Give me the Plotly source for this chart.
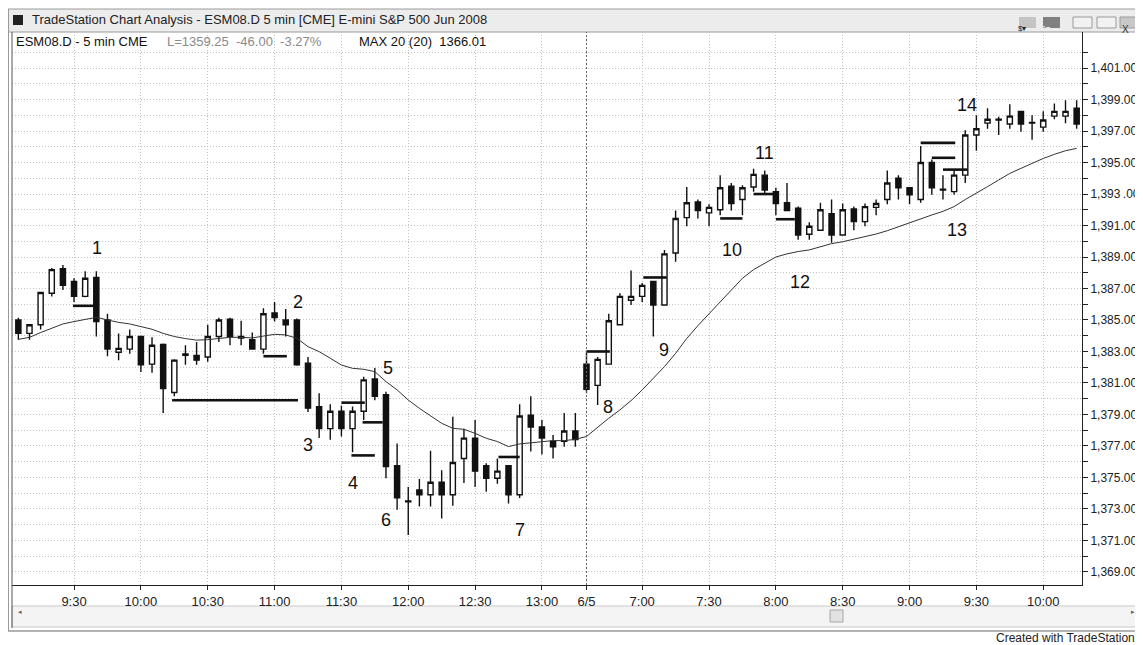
import plotly.graph_objects as go

FONT = "Liberation Sans, Arial, sans-serif"

# ---------------- data ----------------
OPEN = [1385.0, 1384.15, 1384.7, 1386.7, 1388.25, 1387.45, 1386.5, 1387.7, 1385.0, 1382.95,
        1383.15, 1383.95, 1382.2, 1383.45, 1380.4, 1382.75, 1382.75, 1382.65, 1383.95, 1385.05,
        1383.95, 1383.75, 1383.15, 1385.45, 1385.0, 1385.0, 1382.25, 1379.5, 1378.1, 1379.2,
        1378.1, 1379.2, 1381.25, 1380.25, 1375.75, 1373.5, 1374.2, 1373.9, 1374.7, 1373.9,
        1376.2, 1377.5, 1375.75, 1374.95, 1375.75, 1373.9, 1378.95, 1378.2, 1377.3, 1377.3,
        1377.95,
        1382.2, 1380.85, 1382.2, 1384.7, 1386.25, 1386.5, 1387.45, 1385.95, 1389.25, 1391.5,
        1392.5, 1391.8, 1392.0, 1393.5, 1392.65, 1393.45, 1394.2, 1393.15, 1392.45, 1392.1,
        1390.45, 1390.7, 1391.75, 1390.4, 1392.05, 1391.25, 1392.15, 1392.65, 1394.0, 1393.4,
        1392.65, 1395.0, 1393.3, 1393.15, 1394.2, 1396.75, 1397.5, 1397.7, 1397.45, 1398.25,
        1397.55, 1397.25, 1397.95, 1397.95, 1398.45]
HIGH = [1385.15, 1384.7, 1386.75, 1388.3, 1388.5, 1387.65, 1388.1, 1388.1, 1385.4, 1384.15,
        1384.4, 1383.95, 1383.9, 1383.5, 1382.5, 1383.4, 1383.6, 1384.7, 1385.15, 1385.15,
        1384.95, 1384.2, 1385.75, 1386.15, 1385.7, 1385.1, 1382.65, 1380.35, 1379.65, 1379.55,
        1379.5, 1381.4, 1381.95, 1380.45, 1377.15, 1374.4, 1374.9, 1376.7, 1375.45, 1378.85,
        1378.1, 1378.65, 1375.9, 1376.2, 1375.75, 1379.65, 1380.15, 1378.65, 1377.7, 1379.1,
        1379.1,
        1382.95, 1382.65, 1385.4, 1386.7, 1388.15, 1387.35, 1387.45, 1389.45, 1391.95, 1393.45,
        1392.65, 1392.35, 1394.2, 1393.7, 1393.55, 1394.6, 1394.5, 1393.4, 1393.7, 1392.2,
        1391.2, 1392.45, 1392.65, 1392.4, 1392.2, 1392.4, 1392.65, 1394.5, 1394.2, 1393.4,
        1396.05, 1395.2, 1394.2, 1394.5, 1397.05, 1398.0, 1398.45, 1397.9, 1398.7, 1398.25,
        1398.0, 1398.25, 1398.75, 1398.95, 1398.95]
LOW = [1383.75, 1383.75, 1384.4, 1386.5, 1386.9, 1386.15, 1386.45, 1383.95, 1382.7, 1382.45,
       1382.85, 1381.7, 1381.65, 1379.1, 1380.15, 1382.15, 1382.15, 1382.35, 1383.6, 1383.4,
       1383.4, 1383.15, 1382.85, 1384.9, 1383.95, 1382.1, 1379.15, 1377.5, 1377.4, 1377.6,
       1376.6, 1378.65, 1379.9, 1374.95, 1372.95, 1371.35, 1373.15, 1373.15, 1372.4, 1373.2,
       1374.65, 1374.4, 1374.1, 1374.6, 1373.35, 1373.7, 1376.65, 1376.45, 1376.2, 1376.95,
       1376.95,
       1380.35, 1379.6, 1382.2, 1384.65, 1385.95, 1386.15, 1383.95, 1385.95, 1388.7, 1390.95,
       1391.45, 1390.95, 1391.65, 1391.95, 1391.65, 1393.15, 1392.95, 1391.65, 1391.95, 1390.1,
       1390.1, 1390.7, 1389.9, 1390.4, 1390.7, 1390.95, 1391.65, 1392.35, 1392.65, 1392.35,
       1392.45, 1392.95, 1392.65, 1392.95, 1393.7, 1395.75, 1397.15, 1396.75, 1397.15, 1396.95,
       1396.45, 1396.95, 1397.75, 1397.5, 1397.15]
CLOSE = [1384.15, 1384.7, 1386.75, 1388.2, 1387.2, 1386.5, 1387.65, 1384.9, 1383.15, 1383.2,
         1383.95, 1382.15, 1383.4, 1380.65, 1382.45, 1382.85, 1382.45, 1383.95, 1385.0, 1383.95,
         1383.85, 1383.15, 1385.4, 1385.15, 1384.7, 1382.15, 1379.4, 1378.1, 1379.2, 1378.1,
         1379.2, 1381.2, 1380.15, 1375.7, 1373.7, 1373.45, 1373.9, 1374.7, 1373.9, 1375.95,
         1377.5, 1375.4, 1374.95, 1375.4, 1373.9, 1378.9, 1378.2, 1377.5, 1376.95, 1377.95,
         1377.4,
         1380.6, 1382.5, 1384.95, 1386.5, 1386.5, 1387.2, 1385.95, 1389.2, 1391.45, 1392.45,
         1391.95, 1392.15, 1393.4, 1392.4, 1393.4, 1394.25, 1393.25, 1392.4, 1391.95, 1390.4,
         1390.95, 1392.0, 1390.4, 1392.0, 1391.25, 1392.2, 1392.4, 1393.7, 1393.4, 1392.95,
         1395.0, 1393.4, 1393.25, 1394.2, 1396.75, 1397.15, 1397.75, 1397.75, 1397.95, 1397.45,
         1397.5, 1397.7, 1398.25, 1398.25, 1397.45]
MA20 = [1383.77, 1383.9, 1384.2, 1384.5, 1384.75, 1384.9, 1385.04, 1385.17, 1385.0, 1384.85,
        1384.75, 1384.58, 1384.41, 1384.15, 1383.95, 1383.82, 1383.72, 1383.75, 1383.84, 1383.9,
        1383.9, 1383.86, 1383.98, 1384.09, 1384.05, 1383.84, 1383.31, 1382.99, 1382.57, 1382.14,
        1381.93, 1381.87, 1381.72, 1381.09, 1380.56, 1379.92, 1379.39, 1378.9, 1378.44, 1378.12,
        1378.06, 1377.8, 1377.49, 1377.28, 1376.96, 1377.13, 1377.21, 1377.28, 1377.34, 1377.34,
        1377.42,
        1377.6, 1378.2, 1378.76, 1379.29, 1379.88, 1380.56, 1381.3, 1382.04, 1382.88, 1383.83,
        1384.64, 1385.38, 1386.16, 1386.9, 1387.65, 1388.2, 1388.6, 1389.0, 1389.2, 1389.35,
        1389.45, 1389.65, 1389.85, 1389.97, 1390.12, 1390.29, 1390.46, 1390.67, 1390.93, 1391.2,
        1391.45, 1391.67, 1391.9, 1392.2, 1392.65, 1393.04, 1393.47, 1393.89, 1394.31, 1394.63,
        1394.95, 1395.26, 1395.52, 1395.75, 1395.9]

# bar times: day 1 09:05-13:15, day 2 (6/5) 06:35-10:15, 5-minute bars
SESSIONS = [("", 9 * 60 + 5, 13 * 60 + 15), ("6/5", 6 * 60 + 35, 10 * 60 + 15)]
TIMES, DAY_START = [], []
for tag, start, end in SESSIONS:
    DAY_START.append(len(TIMES))
    for m in range(start, end + 1, 5):
        TIMES.append(f"{m // 60}:{m % 60:02d}")
IDX = list(range(len(TIMES)))

# horizontal signal levels: (price, first bar index, last bar index)
LEVEL_PRICE = [1385.9, 1379.9, 1382.7, 1379.75, 1378.5, 1376.4, 1376.3, 1383.0,
               1387.7, 1391.45, 1393.0, 1391.4, 1396.25, 1395.3, 1394.55]
LEVEL_FROM = [4.9, 13.8, 22.0, 29.0, 30.9, 29.9, 43.1, 51.0, 56.1, 63.0, 66.0, 68.0, 81.0, 82.0, 83.0]
LEVEL_TO = [6.9, 25.1, 24.1, 31.1, 32.7, 32.0, 45.0, 53.1, 58.2, 65.0, 68.0, 69.7, 84.1, 84.1, 85.2]

# numbered notes
NOTE_TEXT = ["1", "2", "3", "4", "5", "6", "7", "8", "9", "10", "11", "12", "13", "14"]
NOTE_BAR = [7.1, 25.1, 26.0, 30.0, 33.2, 33.0, 45.0, 52.9, 58.0, 64.1, 67.0, 70.2, 84.3, 85.2]
NOTE_PRICE = [1389.6, 1386.15, 1377.05, 1374.65, 1381.95, 1372.3, 1371.65, 1379.5, 1383.1,
              1389.45, 1395.6, 1387.4, 1390.7, 1398.65]

Y_MAJOR = list(range(1369, 1402, 2))
Y_MINOR = list(range(1370, 1403, 2))
Y_TEXT = [f"{v:,.2f}" if v != 1393 else "1,393\u2009.00" for v in Y_MAJOR]

X_TICK_TIMES = ["9:30", "10:00", "10:30", "11:00", "11:30", "12:00", "12:30", "13:00"]
X_TICK_TIMES2 = ["7:00", "7:30", "8:00", "8:30", "9:00", "9:30", "10:00"]
XT, XTT = [], []
for i, t in enumerate(TIMES):
    if i < DAY_START[1] and t in X_TICK_TIMES:
        XT.append(i); XTT.append(t)
    elif i == DAY_START[1]:
        XT.append(i); XTT.append(SESSIONS[1][0])
    elif i > DAY_START[1] and t in X_TICK_TIMES2:
        XT.append(i); XTT.append(t)

# ---------------- figure ----------------
# the page adds an 8px body margin; the figure fills the rest of the 1143x645 window
OFF = 8
W, H = 1143 - OFF, 645 - OFF
PLOT_L, PLOT_R, PLOT_T, PLOT_B = 12, 1082, 32, 585   # page pixels of the plot area
ML, MR, MT, MB = PLOT_L - OFF, 1143 - PLOT_R, PLOT_T - OFF, 645 - PLOT_B
PW, PH = PLOT_R - PLOT_L, PLOT_B - PLOT_T


def px(x):
    return (x - PLOT_L) / PW


def py(y):
    return (PLOT_B - y) / PH


fig = go.Figure()

fig.add_trace(go.Scatter(x=IDX, y=MA20, mode="lines", line=dict(color="#333", width=1),
                         hoverinfo="skip", showlegend=False))

fig.add_trace(go.Candlestick(
    x=IDX, open=OPEN, high=HIGH, low=LOW, close=CLOSE,
    increasing=dict(line=dict(color="#111", width=1.4), fillcolor="white"),
    decreasing=dict(line=dict(color="#111", width=1.4), fillcolor="#111"),
    whiskerwidth=0, showlegend=False, hoverinfo="skip"))

lx, ly = [], []
for p, a, b in zip(LEVEL_PRICE, LEVEL_FROM, LEVEL_TO):
    lx += [a, b, None]
    ly += [p, p, None]
fig.add_trace(go.Scatter(x=lx, y=ly, mode="lines", line=dict(color="#111", width=2.6),
                         hoverinfo="skip", showlegend=False))

ann = []
for t, b, p in zip(NOTE_TEXT, NOTE_BAR, NOTE_PRICE):
    ann.append(dict(x=b, y=p, text=t, showarrow=False, xref="x", yref="y",
                    font=dict(family=FONT, size=18, color="#111")))

# window chrome
shapes = [
    dict(type="rect", xref="paper", yref="paper", x0=px(8), x1=px(1143), y0=py(9), y1=py(32),
         fillcolor="#ececec", line=dict(color="#9a9a9a", width=1), layer="below"),
    dict(type="rect", xref="paper", yref="paper", x0=px(13), x1=px(23), y0=py(15), y1=py(25),
         fillcolor="#222", line=dict(width=0)),
    dict(type="rect", xref="paper", yref="paper", x0=px(1019), x1=px(1036), y0=py(17), y1=py(28),
         fillcolor="#c4c4c4", line=dict(width=0)),
    dict(type="rect", xref="paper", yref="paper", x0=px(1043), x1=px(1060), y0=py(17), y1=py(28),
         fillcolor="#808080", line=dict(width=0)),
    dict(type="rect", xref="paper", yref="paper", x0=px(1073), x1=px(1092), y0=py(17), y1=py(28),
         fillcolor="#f2f2f2", line=dict(color="#9a9a9a", width=1)),
    dict(type="rect", xref="paper", yref="paper", x0=px(1097), x1=px(1116), y0=py(17), y1=py(28),
         fillcolor="#f2f2f2", line=dict(color="#9a9a9a", width=1)),
    dict(type="rect", xref="paper", yref="paper", x0=px(1120), x1=px(1142), y0=py(17), y1=py(28),
         fillcolor="#c8c8c8", line=dict(color="#9a9a9a", width=1)),
    dict(type="line", xref="paper", yref="paper", x0=px(8.5), x1=px(8.5), y0=py(9), y1=py(631),
         line=dict(color="#9a9a9a", width=1)),
    dict(type="line", xref="paper", yref="paper", x0=px(12), x1=px(12), y0=py(32), y1=py(628),
         line=dict(color="#555", width=1)),
    dict(type="line", xref="paper", yref="paper", x0=px(8), x1=px(1143), y0=py(631), y1=py(631),
         line=dict(color="#9a9a9a", width=1.5)),
    dict(type="rect", xref="paper", yref="paper", x0=px(12), x1=px(1143), y0=py(606), y1=py(627),
         fillcolor="#f4f4f4", line=dict(color="#c8c8c8", width=1), layer="below"),
    dict(type="rect", xref="paper", yref="paper", x0=px(830), x1=px(843), y0=py(610), y1=py(622),
         fillcolor="#e2e2e2", line=dict(color="#a8a8a8", width=1)),
    # session break (first bar of 6/5)
    dict(type="line", xref="x", yref="paper", x0=DAY_START[1], x1=DAY_START[1], y0=0, y1=1,
         line=dict(color="#666", width=1, dash="2px,2px")),
]

ann += [
    dict(xref="paper", yref="paper", x=px(30), y=py(20), xanchor="left", yanchor="middle",
         text="TradeStation Chart Analysis - ESM08.D 5 min [CME] E-mini S&P 500 Jun 2008",
         showarrow=False, font=dict(family=FONT, size=13, color="#222")),
    dict(xref="paper", yref="paper", x=px(14), y=py(41), xanchor="left", yanchor="middle",
         text="ESM08.D - 5 min CME", showarrow=False, font=dict(family=FONT, size=13, color="#111")),
    dict(xref="paper", yref="paper", x=px(165), y=py(41), xanchor="left", yanchor="middle",
         text="L=1359.25  -46.00  -3.27%", showarrow=False,
         font=dict(family=FONT, size=13, color="#8a8a8a")),
    dict(xref="paper", yref="paper", x=px(357), y=py(41), xanchor="left", yanchor="middle",
         text="MAX 20 (20)  1366.01", showarrow=False, font=dict(family=FONT, size=13, color="#111")),
    dict(xref="paper", yref="paper", x=px(1027.5), y=py(22.5), text="$▾", showarrow=False,
         font=dict(family=FONT, size=8, color="#222")),
    dict(xref="paper", yref="paper", x=px(1051.5), y=py(22.5), text="1▾", showarrow=False,
         font=dict(family=FONT, size=8, color="#eee")),
    dict(xref="paper", yref="paper", x=px(1131), y=py(22.5), text="X", showarrow=False,
         font=dict(family=FONT, size=10, color="#333")),
    dict(xref="paper", yref="paper", x=px(16), y=py(617), text="◂", showarrow=False,
         font=dict(family=FONT, size=7, color="#666")),
    dict(xref="paper", yref="paper", x=px(1137), y=py(617), text="▸", showarrow=False,
         font=dict(family=FONT, size=7, color="#666")),
    dict(xref="paper", yref="paper", x=px(994), y=py(638), xanchor="left", yanchor="middle",
         text="Created with TradeStation", showarrow=False,
         font=dict(family=FONT, size=12, color="#222")),
]

GRID = "#c4c4c4"
fig.update_layout(
    width=W, height=H, margin=dict(l=ML, r=MR, t=MT, b=MB, pad=0),
    paper_bgcolor="white", plot_bgcolor="white", showlegend=False,
    boxgap=0.34,
    shapes=shapes, annotations=ann,
    xaxis=dict(range=[-0.57, 95.48], tickmode="array", tickvals=XT, ticktext=XTT,
               ticks="outside", ticklen=4, tickcolor="#222", showline=True, linecolor="#222",
               linewidth=1, showgrid=True, gridcolor=GRID, griddash="1px,2px", gridwidth=1,
               zeroline=False, rangeslider=dict(visible=False),
               tickfont=dict(family=FONT, size=13, color="#222")),
    yaxis=dict(side="right", range=[1368.17, 1403.29], tickmode="array", tickvals=Y_MAJOR,
               ticktext=Y_TEXT, ticks="outside", ticklen=5, tickcolor="#222", showline=True,
               linecolor="#222", linewidth=1, showgrid=True, gridcolor=GRID,
               griddash="1px,2px", gridwidth=1, zeroline=False,
               tickfont=dict(family=FONT, size=12, color="#222"),
               minor=dict(tickvals=Y_MINOR, ticks="outside", ticklen=5, tickcolor="#222",
                          showgrid=True, gridcolor=GRID, griddash="1px,2px", gridwidth=1)),
)

fig.write_html("out.html")
